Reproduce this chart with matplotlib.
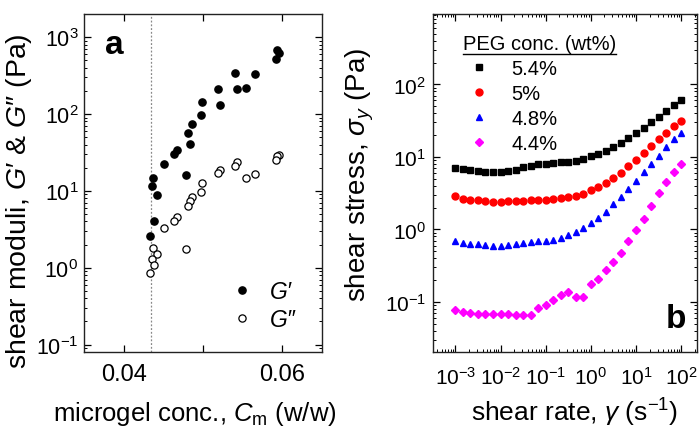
import matplotlib
matplotlib.use("Agg")
import matplotlib.pyplot as plt
from matplotlib.lines import Line2D
from matplotlib.ticker import LogLocator, NullFormatter, FixedLocator

plt.rcParams['font.family'] = ['Liberation Sans', 'DejaVu Sans']
plt.rcParams['mathtext.fontset'] = 'custom'
plt.rcParams['mathtext.rm'] = 'Liberation Sans'
plt.rcParams['mathtext.it'] = 'Liberation Sans:italic'
plt.rcParams['mathtext.bf'] = 'Liberation Sans:bold'
plt.rcParams['mathtext.default'] = 'regular'

# ---------------- Panel a data ----------------
cm_gp = [0.05936, 0.05966, 0.05928, 0.05407, 0.05661, 0.05187, 0.05428, 0.05543,
         0.04991, 0.05220, 0.04975, 0.04856, 0.04813, 0.04835, 0.04666, 0.04635,
         0.04504, 0.04784, 0.04365, 0.04352, 0.04412, 0.04381, 0.04327]
g_prime = [680, 629, 525, 338, 331, 214, 210, 220,
           143, 131, 98, 73, 56, 40.7, 34, 29.9,
           22.4, 16, 14.9, 11.6, 8.85, 4.11, 2.62]
cm_gpp = [0.05966, 0.05936, 0.05928, 0.05428, 0.05407, 0.05661, 0.05543, 0.05220,
          0.05187, 0.04991, 0.04975, 0.04856, 0.04835, 0.04813, 0.04666, 0.04635,
          0.04504, 0.04784, 0.04365, 0.04412, 0.04352, 0.04381, 0.04327]
g_dprime = [29.7, 28.4, 25.2, 24, 21.1, 16.8, 14.6, 18.5,
            16.9, 12.8, 9.7, 8.2, 7.3, 6.4, 4.5, 4.0,
            3.26, 1.74, 1.83, 1.51, 1.29, 1.09, 0.855]
cm_critical = 0.0434

# ---------------- Panel b data ----------------
shear_rate = [0.001, 0.00147, 0.00215, 0.00316, 0.00464, 0.00681,
              0.01, 0.0147, 0.0215, 0.0316, 0.0464, 0.0681,
              0.1, 0.147, 0.215, 0.316, 0.464, 0.681,
              1, 1.47, 2.15, 3.16, 4.64, 6.81,
              10, 14.7, 21.5, 31.6, 46.4, 68.1, 100]
peg_labels = ['5.4%', '5%', '4.8%', '4.4%']
stress_54 = [7.1, 6.8, 6.5, 6.3, 6.25, 6.25, 6.25, 6.3, 6.6, 7.2, 7.6, 8.0, 8.1, 8.3,
             8.4, 8.6, 8.9, 9.5, 10.3, 11.1, 12.2, 13.8, 15.8, 18.4, 21.6, 25.3,
             30.2, 35.8, 43.4, 51.8, 60.7]
stress_50 = [2.88, 2.65, 2.57, 2.51, 2.43, 2.41, 2.41, 2.43, 2.45, 2.48, 2.51, 2.54,
             2.57, 2.62, 2.68, 2.79, 2.88, 3.1, 3.45, 3.84, 4.41, 5.17, 6.05, 7.39,
             9.0, 11.4, 14.1, 17.4, 21.5, 26.6, 31.6]
stress_48 = [0.69, 0.64, 0.62, 0.62, 0.61, 0.60, 0.60, 0.615, 0.635, 0.655, 0.67,
             0.685, 0.70, 0.72, 0.77, 0.85, 0.92, 1.03, 1.21, 1.45, 1.75, 2.21, 2.79,
             3.6, 4.7, 6.1, 8.0, 10.3, 13.7, 17.8, 21.6]
stress_44 = [0.077, 0.073, 0.071, 0.069, 0.0687, 0.0673, 0.0673, 0.0673, 0.0666,
             0.0658, 0.0658, 0.083, 0.090, 0.106, 0.123, 0.138, 0.118, 0.116, 0.174,
             0.209, 0.274, 0.358, 0.478, 0.69, 0.98, 1.40, 2.09, 3.2, 4.5, 6.2, 8.05]

fig = plt.figure(figsize=(6.99, 4.31), dpi=100)
W, H = 699, 431
def frac(x0, x1, ytop, ybot):
    return [x0 / W, 1 - ybot / H, (x1 - x0) / W, (ybot - ytop) / H]

axa = fig.add_axes(frac(84, 322, 15, 353))
axb = fig.add_axes(frac(433, 697, 15, 353))

tick_kw = dict(direction='in', top=True, right=True, colors='black')

# ---- Panel a ----
axa.set_yscale('log')
axa.axvline(cm_critical, color='#888888', ls=(0, (1.5, 1.5)), lw=0.9, zorder=1)
axa.plot(cm_gp, g_prime, 'o', ms=5.2, mfc='black', mec='black', ls='none',
         label="G\u2032", zorder=3)
axa.plot(cm_gpp, g_dprime, 'o', ms=5.2, mfc='white', mec='black', mew=0.9, ls='none',
         label="G\u2033", zorder=3)
axa.set_xlim(0.0349, 0.0651)
axa.set_ylim(0.08, 2000)
axa.xaxis.set_major_locator(FixedLocator([0.04, 0.05, 0.06]))
axa.set_xticklabels(['0.04', '', '0.06'])
axa.yaxis.set_major_locator(LogLocator(base=10, numticks=10))
axa.yaxis.set_minor_locator(LogLocator(base=10, subs=range(2, 10), numticks=10))
axa.yaxis.set_minor_formatter(NullFormatter())
axa.tick_params(which='major', length=5, width=0.9, **tick_kw)
axa.tick_params(which='minor', length=2.5, width=0.7, **tick_kw)
axa.tick_params(axis='x', pad=8, labelsize=17)
axa.tick_params(axis='y', pad=4, labelsize=15.5)
axa.set_xlabel(r"microgel conc., $\mathit{C}_{\mathrm{m}}$ (w/w)", fontsize=18.5)
axa.set_ylabel("shear moduli, $\\mathit{G}$\u2032 & $\\mathit{G}$\u2033 (Pa)", fontsize=20.5)
axa.xaxis.label.set_va('center')
axa.yaxis.label.set_va('center')
axa.xaxis.set_label_coords(0.466, -0.18)
axa.yaxis.set_label_coords(-0.272, 0.45)
axa.text(0.09, 0.91, 'a', transform=axa.transAxes, fontsize=24, fontweight='bold',
         ha='left', va='center')
axa.legend(loc='lower left', bbox_to_anchor=(0.52, 0.0), frameon=False,
           prop={'size': 16.5, 'style': 'italic'},
           handletextpad=0.6, labelspacing=0.22, handlelength=1.2, markerscale=1.0)

# ---- Panel b ----
axb.set_xscale('log')
axb.set_yscale('log')
series = [stress_54, stress_50, stress_48, stress_44]
markers = ['s', 'o', '^', 'D']
colors = ['black', 'red', 'blue', 'magenta']
sizes = [4.3, 5.0, 5.0, 4.3]
for s, m, c, lab, ms in zip(series, markers, colors, peg_labels, sizes):
    axb.plot(shear_rate, s, m, color=c, ms=ms, mec=c, ls='none', label=lab)
axb.set_xlim(3.2e-4, 224)
axb.set_ylim(0.0204, 935)
axb.xaxis.set_major_locator(LogLocator(base=10, numticks=12))
axb.xaxis.set_minor_locator(LogLocator(base=10, subs=range(2, 10), numticks=12))
axb.xaxis.set_minor_formatter(NullFormatter())
axb.yaxis.set_major_locator(LogLocator(base=10, numticks=10))
axb.yaxis.set_minor_locator(LogLocator(base=10, subs=range(2, 10), numticks=10))
axb.yaxis.set_minor_formatter(NullFormatter())
axb.tick_params(which='major', length=5, width=0.9, labelsize=15, **tick_kw)
axb.tick_params(which='minor', length=2.5, width=0.7, **tick_kw)
axb.tick_params(axis='x', pad=10)
axb.tick_params(axis='y', pad=5)
axb.set_xlabel(r"shear rate, $\mathit{\gamma}$ (s$^{-1}$)", fontsize=19)
axb.set_ylabel(r"shear stress, $\mathit{\sigma_y}$ (Pa)", fontsize=20)
axb.xaxis.label.set_va('center')
axb.yaxis.label.set_va('center')
axb.xaxis.set_label_coords(0.538, -0.178)
axb.yaxis.set_label_coords(-0.277, 0.527)
axb.text(0.92, 0.10, 'b', transform=axb.transAxes, fontsize=24, fontweight='bold',
         ha='center', va='center')
leg = axb.legend(loc='upper left', bbox_to_anchor=(0.06, 0.982), frameon=False,
                 fontsize=14.5, title='PEG conc. (wt%)', title_fontsize=14.5,
                 handletextpad=0.8, labelspacing=0.3, handlelength=1.6,
                 borderaxespad=0.3)
leg._legend_box.align = 'left'

for ax in (axa, axb):
    for sp in ax.spines.values():
        sp.set_linewidth(1.0)
        sp.set_color('#222222')

# underline legend title
fig.canvas.draw()
r = fig.canvas.get_renderer()
bb = leg.get_title().get_window_extent(r)
yl = bb.y0 - 1
fig.add_artist(Line2D([bb.x0 / W, bb.x1 / W], [yl / H, yl / H], color='black', lw=1.0,
                      transform=fig.transFigure))

fig.savefig('out.png', dpi=100)
